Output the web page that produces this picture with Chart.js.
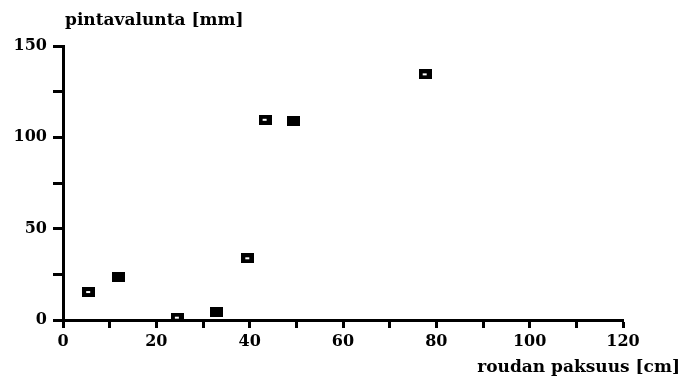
<!DOCTYPE html>
<html>
<head>
<meta charset="utf-8">
<script src="https://cdn.jsdelivr.net/npm/chart.js@4/dist/chart.umd.min.js"></script>
<style>
  html, body { margin: 0; padding: 0; background: #fff; }
  #wrap { width: 683px; height: 376px; position: relative; }
</style>
</head>
<body>
<div id="wrap"><canvas id="c" width="683" height="376"></canvas></div>
<script>
// Frost depth (cm) vs. surface runoff (mm)
const openX   = [5.5, 24.5, 39.6, 43.3, 77.6];
const openY   = [15.3, 1.3, 33.8, 109.6, 134.5];
const filledX = [11.8, 32.8, 49.4];
const filledY = [23.5, 4.6, 108.7];

const xTitle = 'roudan paksuus [cm]';
const yTitle = 'pintavalunta [mm]';
const xTickLabels = ['0', '20', '40', '60', '80', '100', '120'];
const yTickLabels = ['0', '50', '100', '150'];

const FONT = '"DejaVu Serif", "Liberation Serif", serif';

function marker(hollow) {
  const c = document.createElement('canvas');
  c.width = 13; c.height = 10;
  const g = c.getContext('2d');
  g.fillStyle = '#000';
  g.fillRect(0, 0, 13, 10);
  if (hollow) {
    g.fillStyle = '#fff';
    g.fillRect(4, 4, 4, 2);
  }
  return c;
}

const toPoints = (xs, ys) => xs.map((x, i) => ({ x, y: ys[i] }));

const axisTitles = {
  id: 'axisTitles',
  afterDraw(chart) {
    const { ctx, chartArea } = chart;
    ctx.save();
    ctx.fillStyle = '#000';
    ctx.font = 'bold 17px ' + FONT;
    ctx.textBaseline = 'alphabetic';
    ctx.textAlign = 'left';
    ctx.fillText(yTitle, chartArea.left + 2, 25);
    ctx.textAlign = 'right';
    ctx.fillText(xTitle, chart.width - 3, 372);
    ctx.restore();
  }
};

new Chart(document.getElementById('c'), {
  type: 'scatter',
  data: {
    datasets: [
      { data: toPoints(openX, openY), pointStyle: marker(true), pointRadius: 6 },
      { data: toPoints(filledX, filledY), pointStyle: marker(false), pointRadius: 6 }
    ]
  },
  options: {
    responsive: false,
    animation: false,
    events: [],
    layout: { padding: { left: 0, right: 60, top: 46, bottom: 0 } },
    plugins: { legend: { display: false }, tooltip: { enabled: false } },
    scales: {
      x: {
        type: 'linear', min: 0, max: 120,
        afterFit(s) { s.height = 56; },
        border: { display: true, color: '#000', width: 3 },
        grid: { drawOnChartArea: false, drawTicks: true, tickLength: 8, tickWidth: 3, tickColor: '#000' },
        ticks: {
          stepSize: 10, padding: 4, color: '#000', maxRotation: 0, autoSkip: false,
          font: { family: FONT, size: 16, weight: 'bold' },
          callback: v => (v % 20 === 0 ? xTickLabels[v / 20] : '')
        }
      },
      y: {
        type: 'linear', min: 0, max: 150,
        afterFit(s) { s.width = 63; },
        border: { display: true, color: '#000', width: 3 },
        grid: { drawOnChartArea: false, drawTicks: true, tickLength: 10, tickWidth: 3, tickColor: '#000' },
        ticks: {
          stepSize: 25, padding: 6, color: '#000', autoSkip: false,
          font: { family: FONT, size: 16, weight: 'bold' },
          callback: v => (v % 50 === 0 ? yTickLabels[v / 50] : '')
        }
      }
    }
  },
  plugins: [axisTitles]
});
</script>
</body>
</html>
